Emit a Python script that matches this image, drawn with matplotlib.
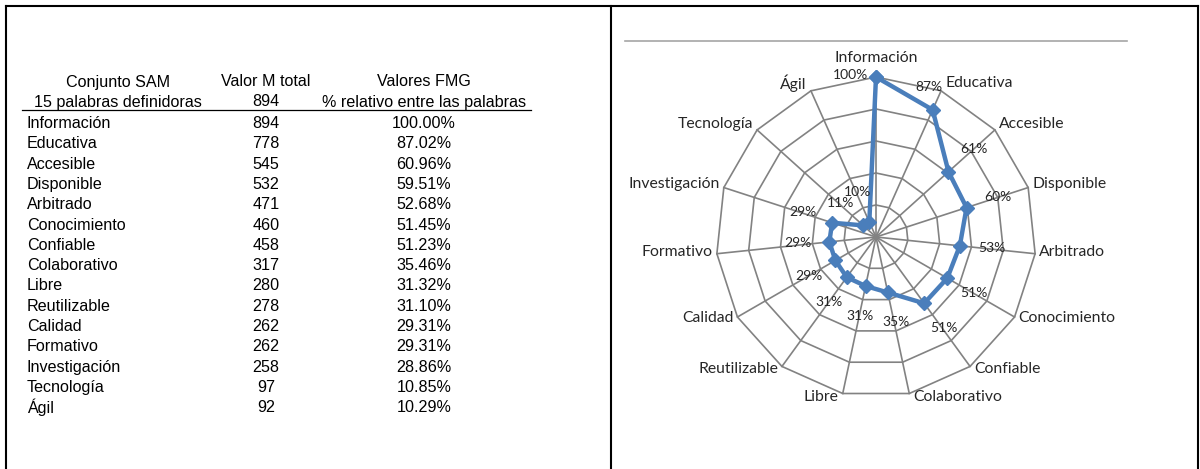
import matplotlib.pyplot as plt
import numpy as np

# table data
palabras = ["Información", "Educativa", "Accesible", "Disponible", "Arbitrado",
            "Conocimiento", "Confiable", "Colaborativo", "Libre", "Reutilizable",
            "Calidad", "Formativo", "Investigación", "Tecnología", "Ágil"]
valor_m = [894, 778, 545, 532, 471, 460, 458, 317, 280, 278, 262, 262, 258, 97, 92]
fmg = [100.00, 87.02, 60.96, 59.51, 52.68, 51.45, 51.23, 35.46, 31.32, 31.10,
       29.31, 29.31, 28.86, 10.85, 10.29]
valor_total = 894
header1 = ["Conjunto SAM", "Valor M total", "Valores FMG"]
header2 = ["15 palabras definidoras", str(valor_total), "% relativo entre las palabras"]

# radar ticks (rings)
rings = [20, 40, 60, 80, 100]

# label offsets (pixels) for the percent labels, clockwise from top
pct_offsets = [(-26, 2), (-4, 23), (25, 23), (31, 11), (32, -2), (27, -15), (20, -25),
               (8, -30), (-6, -30), (-18, -25), (-26, -16), (-31, -1), (-29, 11),
               (-23, 22), (-12, 30)]

W, H = 1200, 469
fig = plt.figure(figsize=(W / 100, H / 100), dpi=100)

# background axes in pixel coords for frame + table
bg = fig.add_axes([0, 0, 1, 1])
bg.set_xlim(0, W)
bg.set_ylim(H, 0)
bg.axis("off")

lw_frame = 1.5
bg.plot([6, 6], [H, 6.5], color="black", lw=lw_frame, solid_capstyle="projecting")
bg.plot([6, 1198], [6.5, 6.5], color="black", lw=lw_frame)
bg.plot([1198, 1198], [6.5, H], color="black", lw=lw_frame)
bg.plot([611, 611], [6.5, H], color="black", lw=lw_frame)
bg.plot([625, 1127], [41, 41], color="#a6a6a6", lw=1.2)

tfont = dict(family="Liberation Sans", fontsize=11.6, color="black")
col_x = [118, 266, 424]
for i, (h1, h2) in enumerate(zip(header1, header2)):
    bg.text(col_x[i], 82, h1, ha="center", va="center", **tfont)
    bg.text(col_x[i], 102, h2, ha="center", va="center", **tfont)
bg.plot([22, 531], [110.5, 110.5], color="black", lw=0.9)

row_y0, row_dy = 123.5, 20.3
for i, (p, v, f) in enumerate(zip(palabras, valor_m, fmg)):
    y = row_y0 + i * row_dy
    bg.text(27, y, p, ha="left", va="center", **tfont)
    bg.text(266, y, str(v), ha="center", va="center", **tfont)
    bg.text(424, y, f"{f:.2f}%", ha="center", va="center", **tfont)

# radar chart
cx, cy, R = 876, 237, 160  # pixels
hw, hh = 250, 220
ax = fig.add_axes([(cx - hw) / W, (H - cy - hh) / H, 2 * hw / W, 2 * hh / H])
ax.set_xlim(-hw / R, hw / R)
ax.set_ylim(-hh / R, hh / R)
ax.axis("off")

n = len(palabras)
theta = np.arange(n) * 2 * np.pi / n
sx, sy = np.sin(theta), np.cos(theta)
grid_c = "#828282"
for r in rings:
    f = r / 100
    ax.plot(np.append(sx, sx[0]) * f, np.append(sy, sy[0]) * f, color=grid_c, lw=1.2, zorder=1)
for i in range(n):
    ax.plot([0, sx[i]], [0, sy[i]], color=grid_c, lw=1.2, zorder=1)

vals = np.array(fmg) / 100
ax.plot(np.append(sx * vals, sx[0] * vals[0]), np.append(sy * vals, sy[0] * vals[0]),
        color="#4a7ebb", lw=3.2, marker="D", markersize=7, zorder=3)

lab_font = dict(family="Lato", fontsize=11.3, color="#262626")
for i, p in enumerate(palabras):
    if abs(sx[i]) < 0.05:
        ha, dx, dy = "center", 0, 19
    else:
        ha = "left" if sx[i] > 0 else "right"
        dx = 4 if sx[i] > 0 else -4
        dy = 2 + 6 * sy[i]
    ax.annotate(p, (sx[i], sy[i]), xytext=(dx, dy), textcoords="offset pixels",
                ha=ha, va="center", **lab_font)

pct_font = dict(family="Lato", fontsize=10, color="#262626")
for i, v in enumerate(fmg):
    ax.annotate(f"{round(v)}%", (sx[i] * vals[i], sy[i] * vals[i]), xytext=pct_offsets[i],
                textcoords="offset pixels", ha="center", va="center", zorder=4, **pct_font)

fig.savefig("out.png", dpi=100)
